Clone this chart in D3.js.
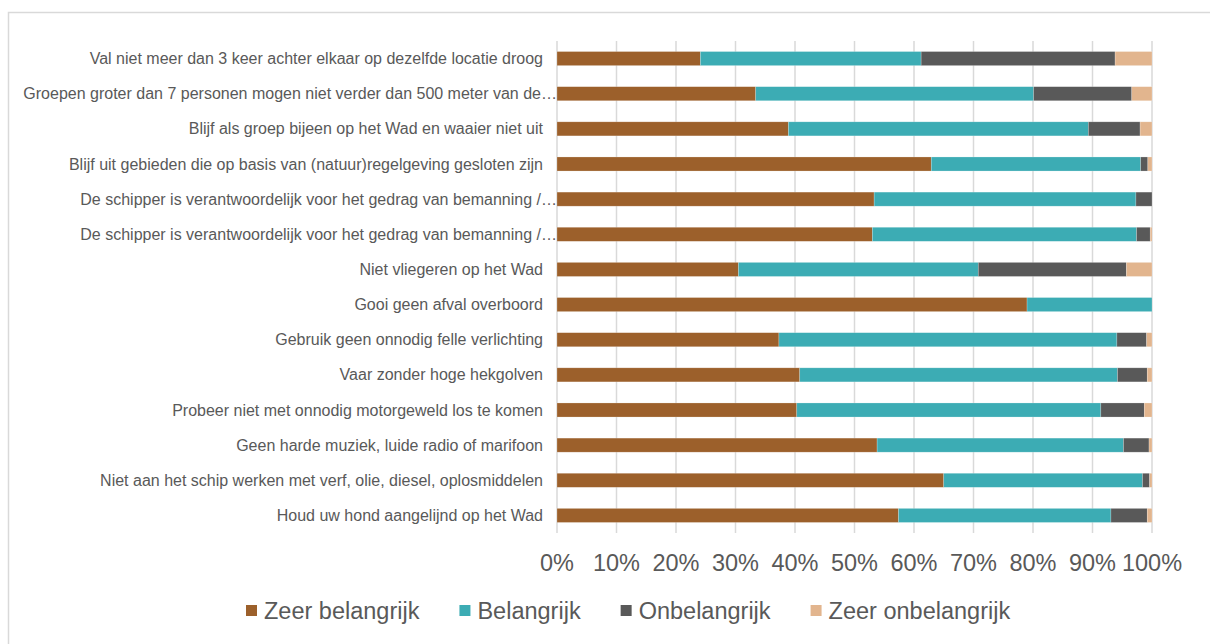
<!DOCTYPE html>
<meta charset="utf-8">
<head>
  <title>Gedragsregels - belang</title>
</head>

<style>
body { margin: 0; background: #fff; }
text {
  font-family: "Liberation Sans", Arial, sans-serif;
  fill: #595959;
}
.grid line { stroke: #d9d9d9; stroke-width: 1.5; }
.cat { font-size: 16px; }
.tick-label { font-size: 23.5px; }
.legend text { font-size: 23.5px; }
</style>

<body>
  <svg width="1210" height="644"></svg>

  <script src="https://d3js.org/d3.v7.min.js"></script>
  <script>
var categories = [
  "Val niet meer dan 3 keer achter elkaar op dezelfde locatie droog",
  "Groepen groter dan 7 personen mogen niet verder dan 500 meter van de…",
  "Blijf als groep bijeen op het Wad en waaier niet uit",
  "Blijf uit gebieden die op basis van (natuur)regelgeving gesloten zijn",
  "De schipper is verantwoordelijk voor het gedrag van bemanning /…",
  "De schipper is verantwoordelijk voor het gedrag van bemanning /…",
  "Niet vliegeren op het Wad",
  "Gooi geen afval overboord",
  "Gebruik geen onnodig felle verlichting",
  "Vaar zonder hoge hekgolven",
  "Probeer niet met onnodig motorgeweld los te komen",
  "Geen harde muziek, luide radio of marifoon",
  "Niet aan het schip werken met verf, olie, diesel, oplosmiddelen",
  "Houd uw hond aangelijnd op het Wad"
];

var seriesNames = ["Zeer belangrijk", "Belangrijk", "Onbelangrijk", "Zeer onbelangrijk"];
var seriesColors = ["#9c602b", "#3cacb4", "#595959", "#e2b58e"];

// percentages per category, same order as categories
var zeerBelangrijk   = [24.1, 33.4, 38.9, 62.9, 53.3, 53.0, 30.5, 79.0, 37.3, 40.8, 40.3, 53.8, 65.0, 57.4];
var belangrijk       = [37.1, 46.7, 50.4, 35.2, 44.0, 44.4, 40.3, 21.0, 56.8, 53.4, 51.1, 41.4, 33.4, 35.7];
var onbelangrijk     = [32.6, 16.5,  8.7,  1.2,  2.7,  2.3, 24.9,  0.0,  5.0,  5.0,  7.3,  4.3,  1.2,  6.1];
var zeerOnbelangrijk = [ 6.2,  3.4,  2.0,  0.7,  0.0,  0.3,  4.3,  0.0,  0.9,  0.8,  1.3,  0.5,  0.4,  0.8];

var xTicks = [0, 10, 20, 30, 40, 50, 60, 70, 80, 90, 100];

var table = categories.map(function(c, i) {
  var row = { id: i, name: c };
  row[seriesNames[0]] = zeerBelangrijk[i];
  row[seriesNames[1]] = belangrijk[i];
  row[seriesNames[2]] = onbelangrijk[i];
  row[seriesNames[3]] = zeerOnbelangrijk[i];
  return row;
});

var svg = d3.select('svg');

// chart border
svg.append('rect')
  .attr('x', 8.5).attr('y', 12.5)
  .attr('width', 1215).attr('height', 640)
  .attr('fill', 'none')
  .attr('stroke', '#d9d9d9')
  .attr('stroke-width', 1.5);

var x = d3.scaleLinear().domain([0, 100]).range([557, 1152]);
var y = d3.scaleBand()
  .domain(d3.range(categories.length))
  .range([41, 533])
  .paddingInner(0.6)
  .paddingOuter(0.3);

var color = d3.scaleOrdinal().domain(seriesNames).range(seriesColors);

// gridlines
svg.append('g').attr('class', 'grid')
  .selectAll('line')
  .data(xTicks)
  .enter()
  .append('line')
  .attr('x1', function(d) { return x(d); })
  .attr('x2', function(d) { return x(d); })
  .attr('y1', 41)
  .attr('y2', 533);

// stacked bars
var stacked = d3.stack().keys(seriesNames)(table);

svg.append('g')
  .selectAll('g')
  .data(stacked)
  .enter()
  .append('g')
  .attr('fill', function(d) { return color(d.key); })
  .selectAll('rect')
  .data(function(d) { return d; })
  .enter()
  .append('rect')
  .attr('x', function(d) { return x(d[0]); })
  .attr('y', function(d) { return y(d.data.id); })
  .attr('width', function(d) { return Math.max(0, x(d[1]) - x(d[0])); })
  .attr('height', y.bandwidth())
  .attr('stroke', '#fff')
  .attr('stroke-opacity', 0.35)
  .attr('stroke-width', 0.6);

// category labels
svg.append('g')
  .selectAll('text')
  .data(categories)
  .enter()
  .append('text')
  .attr('class', 'cat')
  .attr('text-anchor', 'end')
  .attr('x', function(d) { return d.slice(-1) === '…' ? 557 : 543; })
  .attr('y', function(d, i) { return y(i) + y.bandwidth() / 2; })
  .attr('dy', '0.35em')
  .text(function(d) { return d; });

// x tick labels
svg.append('g')
  .selectAll('text')
  .data(xTicks)
  .enter()
  .append('text')
  .attr('class', 'tick-label')
  .attr('text-anchor', 'middle')
  .attr('x', function(d) { return x(d); })
  .attr('y', 563)
  .attr('dy', '0.35em')
  .text(function(d) { return d + '%'; });

// legend
var legend = svg.append('g').attr('class', 'legend');
var lx = 246;
seriesNames.forEach(function(name) {
  legend.append('rect')
    .attr('x', lx).attr('y', 605)
    .attr('width', 11).attr('height', 11)
    .attr('fill', color(name));
  var t = legend.append('text')
    .attr('x', lx + 18)
    .attr('y', 611)
    .attr('dy', '0.35em')
    .text(name);
  lx += 18 + t.node().getComputedTextLength() + 40;
});
  </script>
</body>
</html>
